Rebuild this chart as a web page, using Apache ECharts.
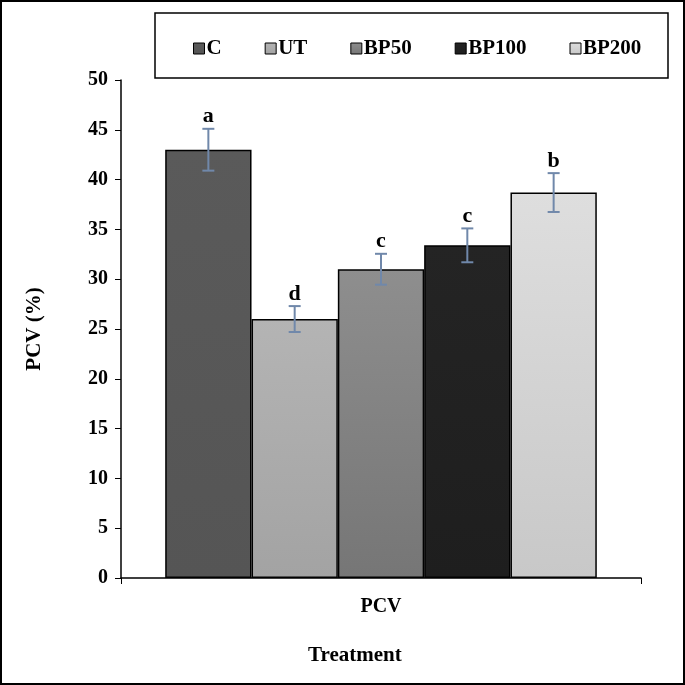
<!DOCTYPE html>
<html><head><meta charset="utf-8">
<script src="https://cdn.jsdelivr.net/npm/echarts@6/dist/echarts.min.js"></script>
<style>html,body{margin:0;padding:0;background:#fff}#c{width:685px;height:685px}</style>
</head><body><div id="c"></div>
<script>
const categories = ['PCV'];
const seriesNames = ['C', 'UT', 'BP50', 'BP100', 'BP200'];
const values = [43.0, 26.0, 31.0, 33.4, 38.7];
const errors = [2.1, 1.3, 1.55, 1.7, 1.95];
const letters = ['a', 'd', 'c', 'c', 'b'];
const yTicks = [0, 50, 5];
const colorsTop = ['#5a5a5a', '#b4b4b4', '#8e8e8e', '#242424', '#dedede'];
const colorsBottom = ['#555555', '#a3a3a3', '#767676', '#1e1e1e', '#c8c8c8'];

const FONT = '"Liberation Serif", "Times New Roman", serif';
const GAP = 0.17;
const N = seriesNames.length;

const barSeries = seriesNames.map((n, i) => ({
  name: n, type: 'bar', data: [values[i]],
  barGap: '0%', barCategoryGap: (GAP * 100) + '%',
  itemStyle: {
    color: new echarts.graphic.LinearGradient(0, 0, 0, 1, [
      {offset: 0, color: colorsTop[i]}, {offset: 1, color: colorsBottom[i]}]),
    borderColor: '#000', borderWidth: 1.5
  }
}));

const errData = values.map((v, i) => [0, v, v - errors[i], v + errors[i], i]);
const errSeries = {
  type: 'custom', silent: true, z: 10,
  data: errData,
  encode: {x: 0, y: [1, 2, 3]},
  renderItem: function (params, api) {
    const idx = api.value(4);
    const center = api.coord([api.value(0), 0])[0];
    const band = api.size([1, 0])[0];
    const bw = band * (1 - GAP) / N;
    const x = center - (N / 2) * bw + (idx + 0.5) * bw;
    const yLo = api.coord([api.value(0), api.value(2)])[1];
    const yHi = api.coord([api.value(0), api.value(3)])[1];
    const cw = 6;
    const st = {stroke: '#7088aa', lineWidth: 2};
    return {type: 'group', children: [
      {type: 'line', shape: {x1: x, y1: yLo, x2: x, y2: yHi}, style: st},
      {type: 'line', shape: {x1: x - cw, y1: yLo, x2: x + cw, y2: yLo}, style: st},
      {type: 'line', shape: {x1: x - cw, y1: yHi, x2: x + cw, y2: yHi}, style: st},
      {type: 'text', x: x, y: yHi - 1, style: {text: letters[idx], fill: '#000',
        font: 'bold 22px ' + FONT, textAlign: 'center', textVerticalAlign: 'bottom'}}
    ]};
  }
};

const chart = echarts.init(document.getElementById('c'), null, {renderer: 'canvas'});
chart.setOption({
  animation: false,
  backgroundColor: '#fff',
  textStyle: {fontFamily: FONT},
  graphic: [
    {type: 'rect', shape: {x: 1, y: 1, width: 683, height: 683}, style: {fill: 'none', stroke: '#000', lineWidth: 2}},
    {type: 'rect', shape: {x: 155, y: 13, width: 513, height: 65}, style: {fill: 'none', stroke: '#000', lineWidth: 1.5}},
    {type: 'text', left: 308, top: 645, style: {text: 'Treatment', fill: '#000', font: 'bold 21px ' + FONT}}
  ],
  legend: {
    data: seriesNames, left: 188, top: 33, itemGap: 43,
    itemWidth: 11, itemHeight: 11, icon: 'rect',
    itemStyle: {borderColor: '#000', borderWidth: 1},
    textStyle: {fontFamily: FONT, fontWeight: 'bold', fontSize: 21, color: '#000', padding: [0, 0, 0, -3]}
  },
  grid: {left: 121, right: 44, top: 80, bottom: 107},
  xAxis: {
    type: 'category', data: categories,
    axisLine: {lineStyle: {color: '#000', width: 1.5}},
    axisTick: {show: true, length: 6, lineStyle: {color: '#000'}},
    axisLabel: {fontFamily: FONT, fontWeight: 'bold', fontSize: 20, color: '#000', margin: 19}
  },
  yAxis: {
    type: 'value', min: yTicks[0], max: yTicks[1], interval: yTicks[2],
    name: 'PCV (%)', nameLocation: 'middle', nameGap: 76, nameRotate: 90,
    nameTextStyle: {fontFamily: FONT, fontWeight: 'bold', fontSize: 21, color: '#000'},
    axisLine: {show: true, lineStyle: {color: '#000', width: 1.5}},
    axisTick: {show: true, length: 6, lineStyle: {color: '#000'}},
    splitLine: {show: false},
    axisLabel: {fontFamily: FONT, fontWeight: 'bold', fontSize: 20, color: '#000', margin: 13}
  },
  series: [...barSeries, errSeries]
});
</script></body></html>
